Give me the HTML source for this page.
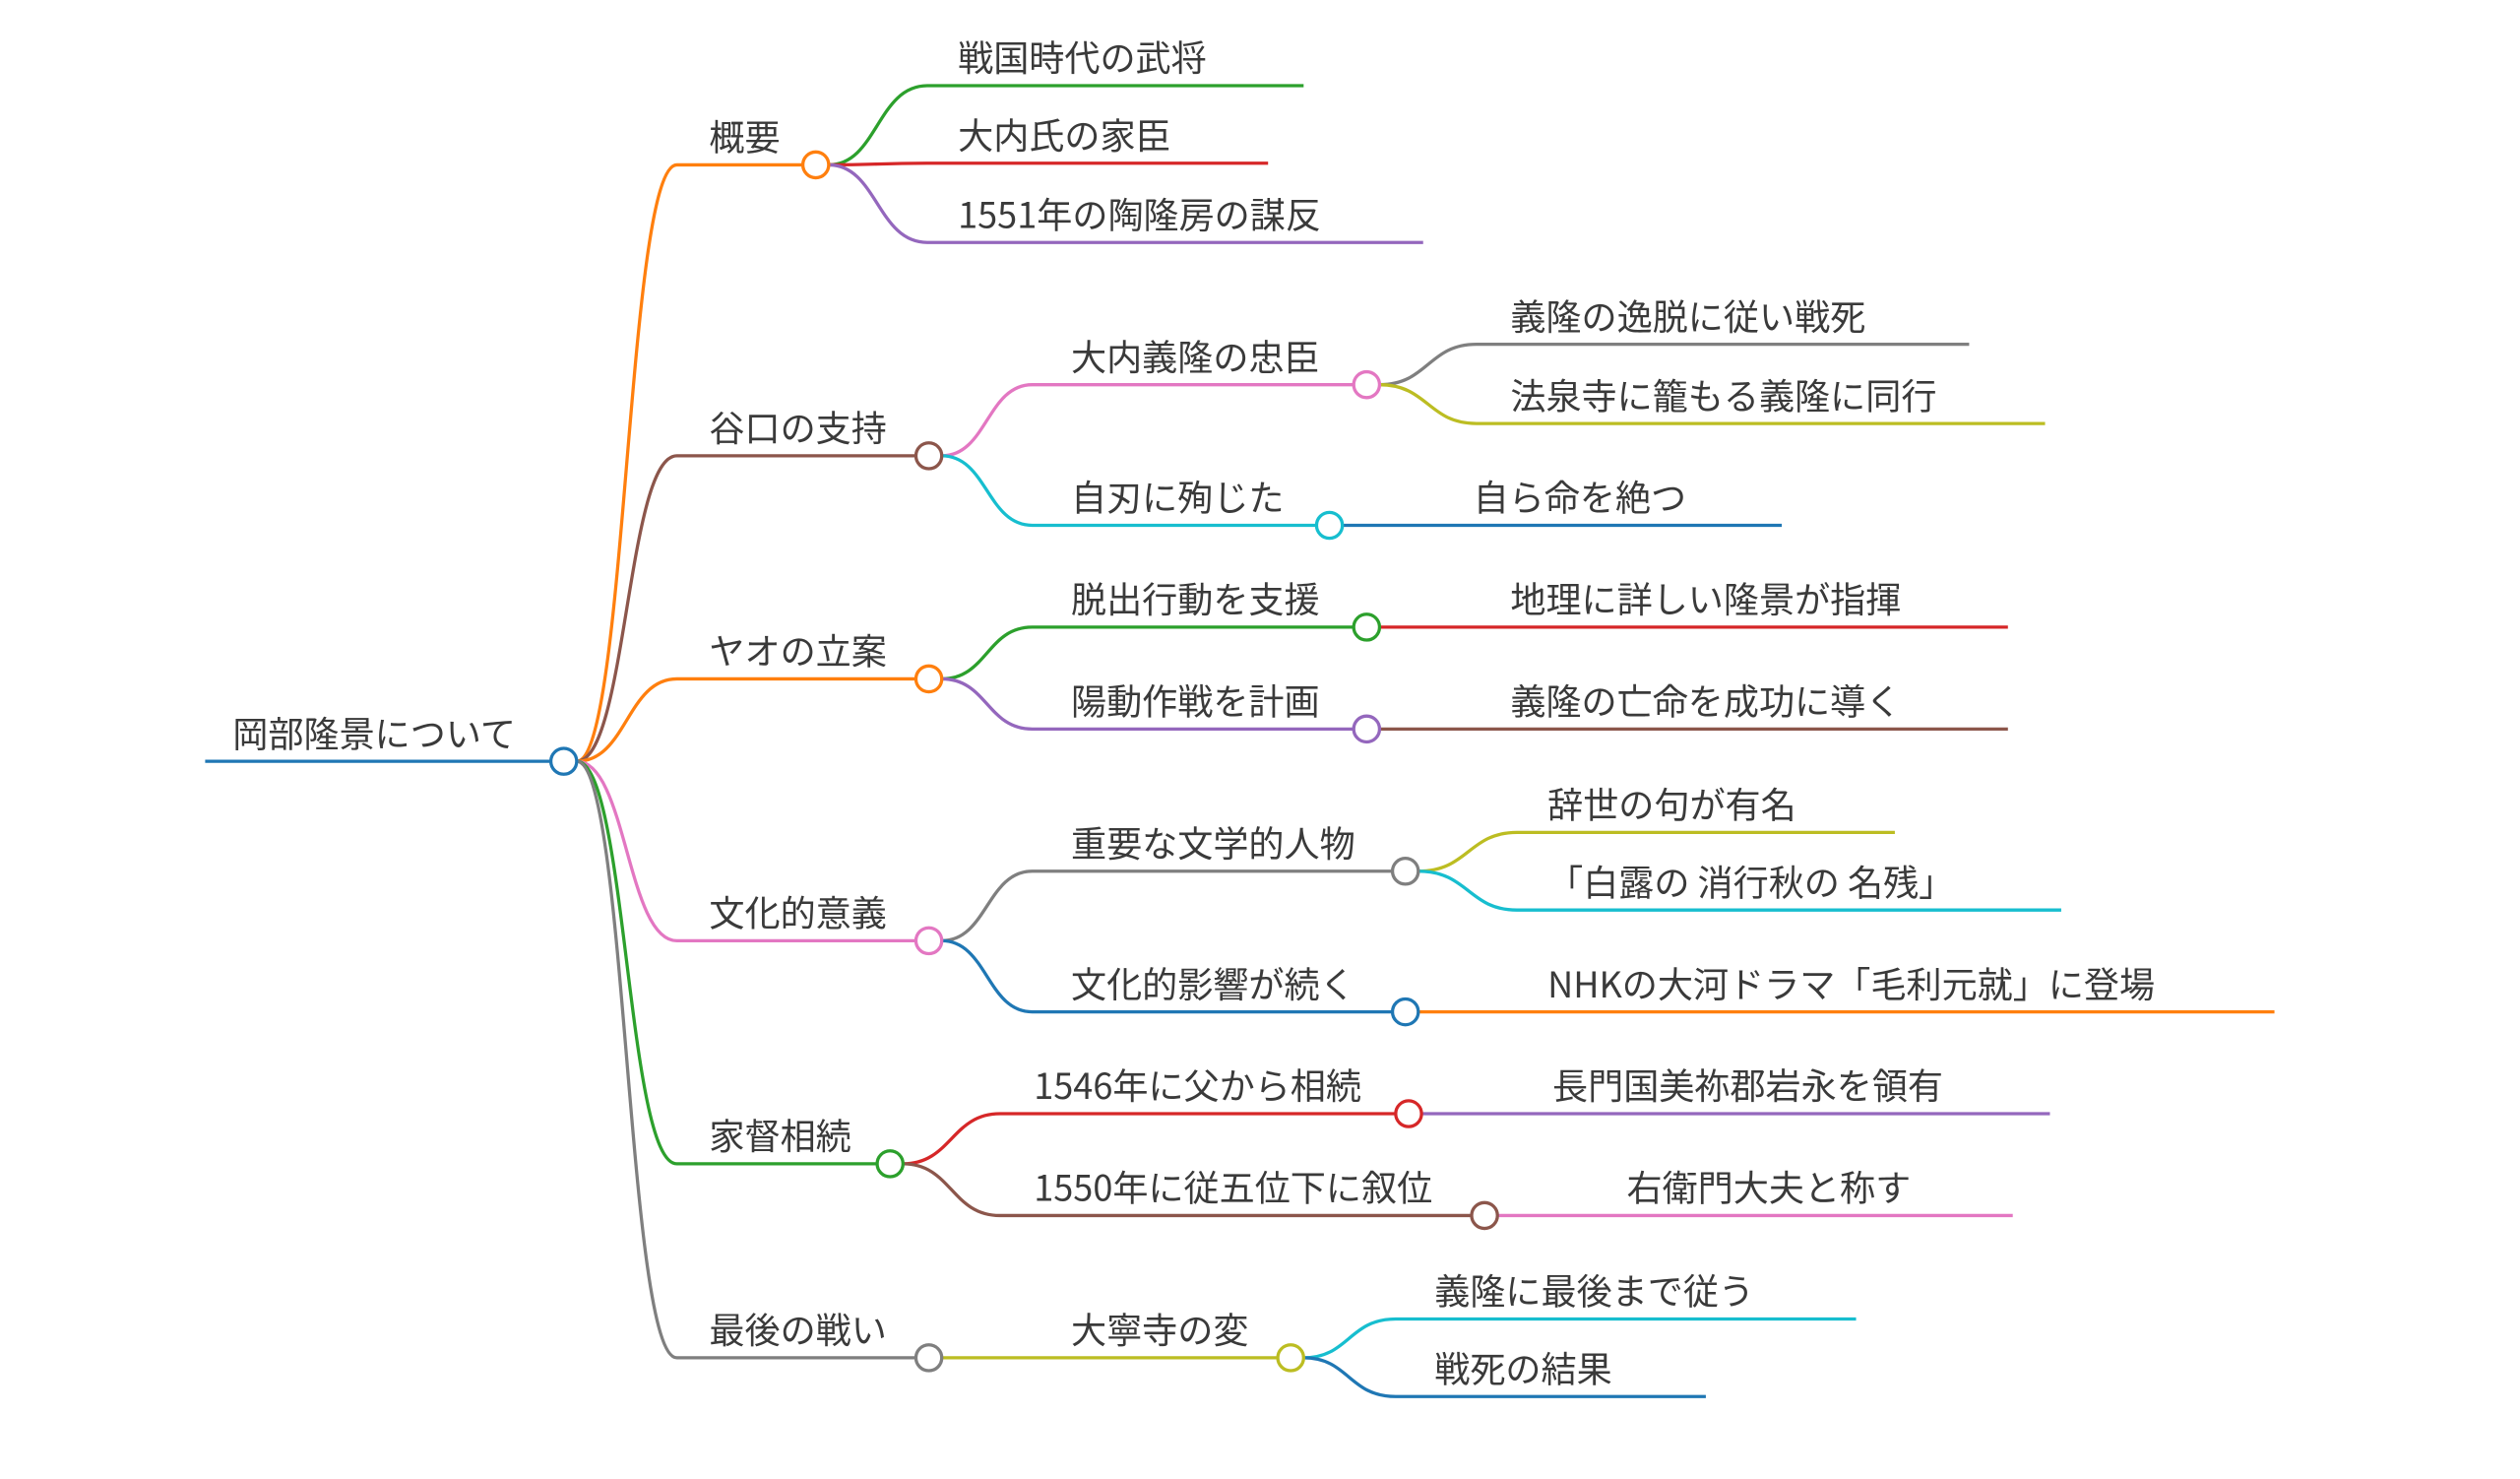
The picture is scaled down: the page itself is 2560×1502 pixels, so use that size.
<!DOCTYPE html>
<html><head><meta charset="utf-8"><style>
html,body{margin:0;padding:0;background:#fff;}
svg{display:block;}
text{font-family:"Noto Sans CJK JP","Liberation Sans",sans-serif;font-size:22px;fill:#3a3a3a;}
path{fill:none;stroke-width:2;}
circle{fill:#fff;stroke-width:2;}
</style></head><body>
<svg width="2560" height="1502" viewBox="0 0 1560 915" preserveAspectRatio="none" xmlns="http://www.w3.org/2000/svg">
<g transform="translate(-1,-2)">
<path stroke="#ff7f0e" d="M358 473 C389 473 389 104 420 104 H498"/>
<path stroke="#8c564b" d="M358 473 C389 473 389 284 420 284 H568"/>
<path stroke="#ff7f0e" d="M358 473 C389 473 389 422 420 422 H568"/>
<path stroke="#e377c2" d="M358 473 C389 473 389 584 420 584 H568"/>
<path stroke="#2ca02c" d="M358 473 C389 473 389 722 420 722 H544"/>
<path stroke="#7f7f7f" d="M358 473 C389 473 389 842 420 842 H568"/>
<path stroke="#2ca02c" d="M514 104 C544 104 544 55 575 55 H808"/>
<path stroke="#d62728" d="M514 104 C544 104 544 103 575 103 H786"/>
<path stroke="#9467bd" d="M514 104 C544 104 544 152 575 152 H882"/>
<path stroke="#e377c2" d="M584 284 C612 284 612 240 640 240 H839"/>
<path stroke="#17becf" d="M584 284 C612 284 612 327 640 327 H816"/>
<path stroke="#7f7f7f" d="M855 240 C885 240 885 215 915 215 H1220"/>
<path stroke="#bcbd22" d="M855 240 C885 240 885 264 915 264 H1267"/>
<path stroke="#1f77b4" d="M832 327 H1104"/>
<path stroke="#2ca02c" d="M584 422 C612 422 612 390 640 390 H839"/>
<path stroke="#9467bd" d="M584 422 C612 422 612 453 640 453 H839"/>
<path stroke="#d62728" d="M855 390 H1244"/>
<path stroke="#8c564b" d="M855 453 H1244"/>
<path stroke="#7f7f7f" d="M584 584 C612 584 612 541 640 541 H863"/>
<path stroke="#1f77b4" d="M584 584 C612 584 612 628 640 628 H863"/>
<path stroke="#bcbd22" d="M879 541 C910 541 910 517 940 517 H1174"/>
<path stroke="#17becf" d="M879 541 C910 541 910 565 940 565 H1277"/>
<path stroke="#ff7f0e" d="M879 628 H1409"/>
<path stroke="#d62728" d="M560 722 C590 722 590 691 620 691 H865"/>
<path stroke="#8c564b" d="M560 722 C590 722 590 754 620 754 H912"/>
<path stroke="#9467bd" d="M881 691 H1270"/>
<path stroke="#e377c2" d="M928 754 H1247"/>
<path stroke="#bcbd22" d="M584 842 H792"/>
<path stroke="#17becf" d="M808 842 C836 842 836 818 865 818 H1150"/>
<path stroke="#1f77b4" d="M808 842 C836 842 836 866 865 866 H1057"/>
<path stroke="#1f77b4" stroke-width="3.5" d="M128 473 H342"/>
<circle cx="350" cy="473" r="8" stroke="#1f77b4"/>
<circle cx="506" cy="104" r="8" stroke="#ff7f0e"/>
<circle cx="576" cy="284" r="8" stroke="#8c564b"/>
<circle cx="576" cy="422" r="8" stroke="#ff7f0e"/>
<circle cx="576" cy="584" r="8" stroke="#e377c2"/>
<circle cx="552" cy="722" r="8" stroke="#2ca02c"/>
<circle cx="576" cy="842" r="8" stroke="#7f7f7f"/>
<circle cx="847" cy="240" r="8" stroke="#e377c2"/>
<circle cx="824" cy="327" r="8" stroke="#17becf"/>
<circle cx="847" cy="390" r="8" stroke="#2ca02c"/>
<circle cx="847" cy="453" r="8" stroke="#9467bd"/>
<circle cx="871" cy="541" r="8" stroke="#7f7f7f"/>
<circle cx="871" cy="628" r="8" stroke="#1f77b4"/>
<circle cx="873" cy="691" r="8" stroke="#d62728"/>
<circle cx="920" cy="754" r="8" stroke="#8c564b"/>
<circle cx="800" cy="842" r="8" stroke="#bcbd22"/>
<text x="145" y="464">岡部隆景について</text>
<text x="440" y="95">概要</text>
<text x="440" y="275">谷口の支持</text>
<text x="440" y="413">ヤオの立案</text>
<text x="440" y="575">文化的意義</text>
<text x="440" y="713">家督相続</text>
<text x="440" y="833">最後の戦い</text>
<text x="594" y="46">戦国時代の武将</text>
<text x="594" y="94">大内氏の家臣</text>
<text x="594" y="143">1551年の陶隆房の謀反</text>
<text x="664" y="231">大内義隆の忠臣</text>
<text x="664" y="318">自刃に殉じた</text>
<text x="936" y="206">義隆の逸脱に従い戦死</text>
<text x="936" y="255">法泉寺に籠もる義隆に同行</text>
<text x="913" y="318">自ら命を絶つ</text>
<text x="664" y="381">脱出行動を支援</text>
<text x="664" y="444">陽動作戦を計画</text>
<text x="936" y="381">地理に詳しい隆景が指揮</text>
<text x="936" y="444">義隆の亡命を成功に導く</text>
<text x="664" y="532">重要な文学的人物</text>
<text x="664" y="619">文化的影響が続く</text>
<text x="959" y="508">辞世の句が有名</text>
<text x="959" y="556">「白露の 消行秋の 名残」</text>
<text x="959" y="619">NHKの大河ドラマ「毛利元就」に登場</text>
<text x="641" y="682">1546年に父から相続</text>
<text x="641" y="745">1550年に従五位下に叙位</text>
<text x="962" y="682">長門国美祢郡岩永を領有</text>
<text x="1008" y="745">右衛門大夫と称す</text>
<text x="664" y="833">大寧寺の変</text>
<text x="889" y="809">義隆に最後まで従う</text>
<text x="889" y="857">戦死の結果</text>
</g>
</svg>
</body></html>
